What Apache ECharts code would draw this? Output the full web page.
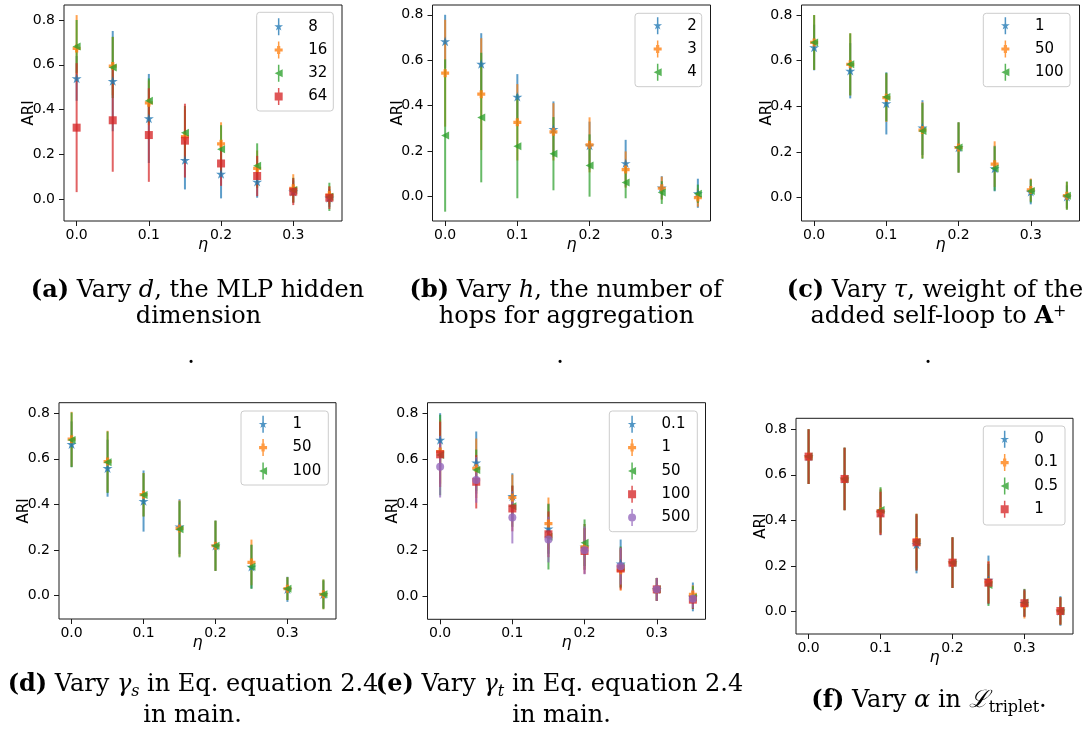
<!DOCTYPE html>
<html><head><meta charset="utf-8">
<script src="https://cdn.jsdelivr.net/npm/echarts@6/dist/echarts.min.js"></script>
<style>html,body{margin:0;padding:0;background:#fff}#c{width:1085px;height:731px}</style>
</head><body><div id="c"></div><script>
// ---------- data ----------
const etas = [0, 0.05, 0.1, 0.15, 0.2, 0.25, 0.3, 0.35];
const xTicks = [0, 0.1, 0.2, 0.3];
const yTicks = [0, 0.2, 0.4, 0.6, 0.8];

// (a) vary d
const aNames = ['8', '16', '32', '64'];
const aMean8  = [0.539, 0.527, 0.360, 0.174, 0.112, 0.077, 0.033, 0.005];
const aErr8   = [0.100, 0.224, 0.199, 0.131, 0.109, 0.071, 0.050, 0.040];
const aMean16 = [0.673, 0.594, 0.430, 0.279, 0.247, 0.137, 0.048, 0.018];
const aErr16  = [0.149, 0.130, 0.100, 0.120, 0.096, 0.080, 0.063, 0.040];
const aMean32 = [0.682, 0.588, 0.439, 0.296, 0.223, 0.149, 0.040, 0.010];
const aErr32  = [0.118, 0.137, 0.100, 0.120, 0.107, 0.100, 0.055, 0.063];
const aMean64 = [0.319, 0.352, 0.286, 0.261, 0.159, 0.103, 0.033, 0.006];
const aErr64  = [0.288, 0.230, 0.209, 0.165, 0.100, 0.090, 0.060, 0.050];

// (b) vary h
const bNames = ['2', '3', '4'];
const bMean2 = [0.683, 0.584, 0.439, 0.297, 0.225, 0.147, 0.040, 0.015];
const bErr2  = [0.117, 0.135, 0.100, 0.122, 0.105, 0.103, 0.050, 0.064];
const bMean3 = [0.543, 0.451, 0.327, 0.285, 0.228, 0.119, 0.037, -0.004];
const bErr3  = [0.235, 0.246, 0.168, 0.126, 0.121, 0.080, 0.051, 0.040];
const bMean4 = [0.269, 0.348, 0.222, 0.189, 0.137, 0.062, 0.018, 0.013];
const bErr4  = [0.335, 0.285, 0.229, 0.161, 0.137, 0.069, 0.050, 0.040];

// (c) vary tau
const cNames = ['1', '50', '100'];
const cMean1   = [0.658, 0.556, 0.413, 0.307, 0.220, 0.128, 0.026, 0.004];
const cErr1    = [0.100, 0.121, 0.136, 0.120, 0.110, 0.100, 0.055, 0.050];
const cMean50  = [0.680, 0.584, 0.438, 0.296, 0.220, 0.147, 0.034, 0.009];
const cErr50   = [0.120, 0.136, 0.106, 0.122, 0.110, 0.100, 0.050, 0.060];
const cMean100 = [0.680, 0.584, 0.441, 0.292, 0.220, 0.128, 0.029, 0.009];
const cErr100  = [0.120, 0.136, 0.106, 0.122, 0.110, 0.097, 0.050, 0.062];

// (d) vary gamma_s
const dNames = ['1', '50', '100'];
const dMean1   = [0.664, 0.559, 0.415, 0.303, 0.219, 0.127, 0.028, 0.006];
const dErr1    = [0.100, 0.125, 0.134, 0.120, 0.110, 0.095, 0.055, 0.060];
const dMean50  = [0.686, 0.588, 0.443, 0.295, 0.219, 0.146, 0.031, 0.006];
const dErr50   = [0.120, 0.135, 0.095, 0.123, 0.110, 0.100, 0.050, 0.065];
const dMean100 = [0.683, 0.585, 0.442, 0.291, 0.219, 0.127, 0.031, 0.006];
const dErr100  = [0.120, 0.135, 0.095, 0.123, 0.110, 0.097, 0.050, 0.065];

// (e) vary gamma_t
const eNames = ['0.1', '1', '50', '100', '500'];
const eMean01  = [0.683, 0.584, 0.437, 0.295, 0.215, 0.142, 0.029, -0.004];
const eErr01   = [0.117, 0.136, 0.100, 0.110, 0.100, 0.105, 0.050, 0.063];
const eMean1   = [0.632, 0.559, 0.431, 0.317, 0.215, 0.113, 0.029, 0.007];
const eErr1    = [0.140, 0.130, 0.100, 0.114, 0.100, 0.090, 0.050, 0.040];
const eMean50  = [0.617, 0.551, 0.393, 0.259, 0.233, 0.127, 0.029, -0.007];
const eErr50   = [0.176, 0.090, 0.090, 0.143, 0.102, 0.090, 0.050, 0.050];
const eMean100 = [0.620, 0.500, 0.383, 0.270, 0.197, 0.120, 0.029, -0.016];
const eErr100  = [0.143, 0.117, 0.100, 0.100, 0.100, 0.092, 0.050, 0.040];
const eMean500 = [0.566, 0.508, 0.344, 0.247, 0.200, 0.130, 0.029, -0.012];
const eErr500  = [0.135, 0.100, 0.114, 0.100, 0.105, 0.080, 0.050, 0.040];

// (f) vary alpha
const fNames = ['0', '0.1', '0.5', '1'];
const fMean0  = [0.680, 0.582, 0.435, 0.295, 0.215, 0.139, 0.037, 0.003];
const fErr0   = [0.120, 0.137, 0.100, 0.127, 0.111, 0.107, 0.060, 0.065];
const fMean01 = [0.680, 0.582, 0.440, 0.310, 0.215, 0.130, 0.030, 0.003];
const fErr01  = [0.120, 0.137, 0.100, 0.120, 0.111, 0.092, 0.060, 0.060];
const fMean05 = [0.680, 0.582, 0.446, 0.305, 0.215, 0.117, 0.040, 0.003];
const fErr05  = [0.120, 0.137, 0.100, 0.124, 0.111, 0.092, 0.060, 0.060];
const fMean1  = [0.680, 0.582, 0.431, 0.304, 0.215, 0.127, 0.037, 0.003];
const fErr1   = [0.120, 0.137, 0.095, 0.124, 0.111, 0.092, 0.060, 0.060];

const panels = [
  {names: aNames, means: [aMean8, aMean16, aMean32, aMean64], errs: [aErr8, aErr16, aErr32, aErr64]},
  {names: bNames, means: [bMean2, bMean3, bMean4], errs: [bErr2, bErr3, bErr4]},
  {names: cNames, means: [cMean1, cMean50, cMean100], errs: [cErr1, cErr50, cErr100]},
  {names: dNames, means: [dMean1, dMean50, dMean100], errs: [dErr1, dErr50, dErr100]},
  {names: eNames, means: [eMean01, eMean1, eMean50, eMean100, eMean500], errs: [eErr01, eErr1, eErr50, eErr100, eErr500]},
  {names: fNames, means: [fMean0, fMean01, fMean05, fMean1], errs: [fErr0, fErr01, fErr05, fErr1]}
];

// ---------- layout & style ----------
const layout = [
  {left: 64,    top: 5,     width: 278, height: 216,   ymin: -0.098, ymax: 0.867, lgX: 278.3,  lgY: 26.7,  box: [256.7, 12.3, 76.6, 98.7]},
  {left: 432.5, top: 5,     width: 278, height: 216,   ymin: -0.107, ymax: 0.843, lgX: 657.3,  lgY: 25.7,  box: [635, 13.3, 66.7, 73.4]},
  {left: 801.5, top: 5,     width: 278, height: 216,   ymin: -0.102, ymax: 0.844, lgX: 1005,   lgY: 25.7,  box: [983.3, 13.3, 86.7, 73.4]},
  {left: 59,    top: 402.7, width: 277, height: 216.3, ymin: -0.102, ymax: 0.846, lgX: 262.7,  lgY: 424.3, box: [241, 411, 87.3, 74]},
  {left: 427.5, top: 402.7, width: 278, height: 216.6, ymin: -0.102, ymax: 0.846, lgX: 631.7,  lgY: 424.3, box: [609.3, 411, 88, 120.7]},
  {left: 796,   top: 418.3, width: 277, height: 215.7, ymin: -0.098, ymax: 0.848, lgX: 1004.3, lgY: 439.3, box: [983.3, 426, 81.7, 99]}
];
const LEGEND_SHIFT = 20.5;
const colors = ['#1f77b4', '#ff7f0e', '#2ca02c', '#d62728', '#9467bd'];

function starPath(r) {
  const ri = r * 0.382; let d = '';
  for (let k = 0; k < 10; k++) {
    const ang = -Math.PI / 2 + k * Math.PI / 5, rr = k % 2 === 0 ? r : ri;
    d += (k === 0 ? 'M' : 'L') + (rr * Math.cos(ang)).toFixed(3) + ',' + (rr * Math.sin(ang)).toFixed(3) + ' ';
  }
  return d + 'Z';
}
function plusPath(a, w) {
  return `M${-w},${-a} L${w},${-a} L${w},${-w} L${a},${-w} L${a},${w} L${w},${w} L${w},${a} L${-w},${a} L${-w},${w} L${-a},${w} L${-a},${-w} L${-w},${-w} Z`;
}
function triPath(a) { return `M${-a},0 L${a},${-a} L${a},${a} Z`; }
function sqPath(a) { return `M${-a},${-a} L${a},${-a} L${a},${a} L${-a},${a} Z`; }
function circPath(r) { return `M${-r},0 A${r},${r} 0 1,1 ${r},0 A${r},${r} 0 1,1 ${-r},0 Z`; }
const barPath = 'M-0.75,-8.5 L0.75,-8.5 L0.75,8.5 L-0.75,8.5 Z';

const markerShapes = [starPath(5), plusPath(4, 1.6), triPath(4), sqPath(4), circPath(4)];
const markerSizes = [10, 8, 8, 8, 8];
const legendShapes = [starPath(4.6), plusPath(4, 1.6), triPath(4), sqPath(4), circPath(4)];

const FONT = 'DejaVu Sans';
const grids = [], xAxes = [], yAxes = [], series = [], legends = [], graphics = [];

panels.forEach((p, i) => {
  const L = layout[i];
  grids.push({left: L.left, top: L.top, width: L.width, height: L.height, show: true,
    borderColor: '#1a1a1a', borderWidth: 1, backgroundColor: 'transparent'});
  xAxes.push({gridIndex: i, type: 'value', min: -0.0175, max: 0.3675,
    axisLine: {show: false, onZero: false}, splitLine: {show: false},
    axisTick: {show: true, length: 5, customValues: xTicks, lineStyle: {color: '#1a1a1a', width: 1}},
    axisLabel: {customValues: xTicks, formatter: v => v.toFixed(1), fontFamily: FONT, fontSize: 14, color: '#000', margin: 7},
    name: 'η', nameLocation: 'middle', nameGap: 16, nameMoveOverlap: false,
    nameTextStyle: {fontFamily: FONT, fontStyle: 'italic', fontSize: 16, color: '#000'}});
  yAxes.push({gridIndex: i, type: 'value', min: L.ymin, max: L.ymax,
    axisLine: {show: false, onZero: false}, splitLine: {show: false},
    axisTick: {show: true, length: 5, customValues: yTicks, lineStyle: {color: '#1a1a1a', width: 1}},
    axisLabel: {customValues: yTicks, formatter: v => v.toFixed(1), fontFamily: FONT, fontSize: 14, color: '#000', margin: 9},
    name: 'ARI', nameLocation: 'middle', nameGap: 27, nameMoveOverlap: false,
    nameTextStyle: {fontFamily: FONT, fontSize: 15, color: '#000'}});

  p.names.forEach((nm, s) => {
    const m = p.means[s], e = p.errs[s], col = colors[s];
    series.push({
      type: 'custom', name: 'err' + i + '_' + s, xAxisIndex: i, yAxisIndex: i, silent: true,
      data: etas.map((x, k) => [x, m[k] - e[k], m[k] + e[k]]),
      renderItem: (params, api) => {
        const p1 = api.coord([api.value(0), api.value(1)]);
        const p2 = api.coord([api.value(0), api.value(2)]);
        return {type: 'line', shape: {x1: p1[0], y1: p1[1], x2: p2[0], y2: p2[1]},
          style: {stroke: col, lineWidth: 2, opacity: 0.72}};
      }
    });
    series.push({
      type: 'scatter', name: i + '|' + nm, xAxisIndex: i, yAxisIndex: i,
      data: etas.map((x, k) => [x, m[k]]),
      symbol: 'path://' + markerShapes[s], symbolSize: markerSizes[s], symbolKeepAspect: true,
      itemStyle: {color: col, opacity: 0.78}
    });
  });

  legends.push({
    orient: 'vertical', left: L.lgX - 24.5 + LEGEND_SHIFT, top: L.lgY - 8.5, padding: 0,
    itemWidth: 49, itemHeight: 17, itemGap: 6.3, selectedMode: false,
    data: p.names.map((nm, s) => ({name: i + '|' + nm, icon: 'path://' + legendShapes[s] + ' ' + barPath})),
    formatter: name => name.split('|')[1],
    textStyle: {fontFamily: FONT, fontSize: 15, color: '#000'}
  });
  graphics.push({type: 'rect', z: 3, shape: {x: L.box[0], y: L.box[1], width: L.box[2], height: L.box[3], r: 3},
    style: {fill: 'rgba(255,255,255,0.8)', stroke: '#cccccc', lineWidth: 1}});
});

// ---------- captions ----------
const CF = 'DejaVu Serif', CS = 24;
const rich = {
  b: {fontFamily: CF, fontSize: CS, fontWeight: 'bold', fill: '#000'},
  i: {fontFamily: CF, fontSize: CS, fontStyle: 'italic', fill: '#000'},
  bA: {fontFamily: CF, fontSize: CS, fontWeight: 'bold', fill: '#000'},
  sup: {fontFamily: CF, fontSize: 16, fill: '#000', padding: [0, 0, 11, 0]},
  subi: {fontFamily: CF, fontSize: 16, fontStyle: 'italic', fill: '#000', padding: [14, 0, 0, 0]},
  sub: {fontFamily: CF, fontSize: 16, fill: '#000', padding: [14, 0, 0, 0]},
  L: {fontFamily: CF, fontSize: CS, fontStyle: 'italic', fill: '#000'}
};
const captions = [
  ['{b|(a)} Vary {i|d}, the MLP hidden', 197.5, 291],
  ['dimension', 198.5, 317],
  ['{b|(b)} Vary {i|h}, the number of', 565.8, 291],
  ['hops for aggregation', 566.5, 317],
  ['{b|(c)} Vary {i|τ}, weight of the', 935, 291],
  ['added self-loop to {bA|A}{sup|+}', 938.5, 317],
  ['{b|(d)} Vary {i|γ}{subi|s} in Eq. equation 2.4', 193, 684.5],
  ['in main.', 192.5, 716],
  ['{b|(e)} Vary {i|γ}{subi|t} in Eq. equation 2.4', 559.5, 684.5],
  ['in main.', 561.5, 716],
  ['{b|(f)} Vary {i|α} in {L|ℒ}{sub|triplet}.', 929, 701],
  ['.', 191, 357], ['.', 560, 357], ['.', 928, 357]
];
captions.forEach(c => graphics.push({type: 'text', z: 5, x: c[1], y: c[2],
  style: {text: c[0], align: 'center', verticalAlign: 'middle', fontFamily: CF, fontSize: CS, fill: '#000', rich: rich}}));

const chart = echarts.init(document.getElementById('c'), null, {renderer: 'canvas'});
chart.setOption({
  animation: false, backgroundColor: '#fff',
  grid: grids, xAxis: xAxes, yAxis: yAxes, series: series, legend: legends, graphic: graphics
});
</script></body></html>
